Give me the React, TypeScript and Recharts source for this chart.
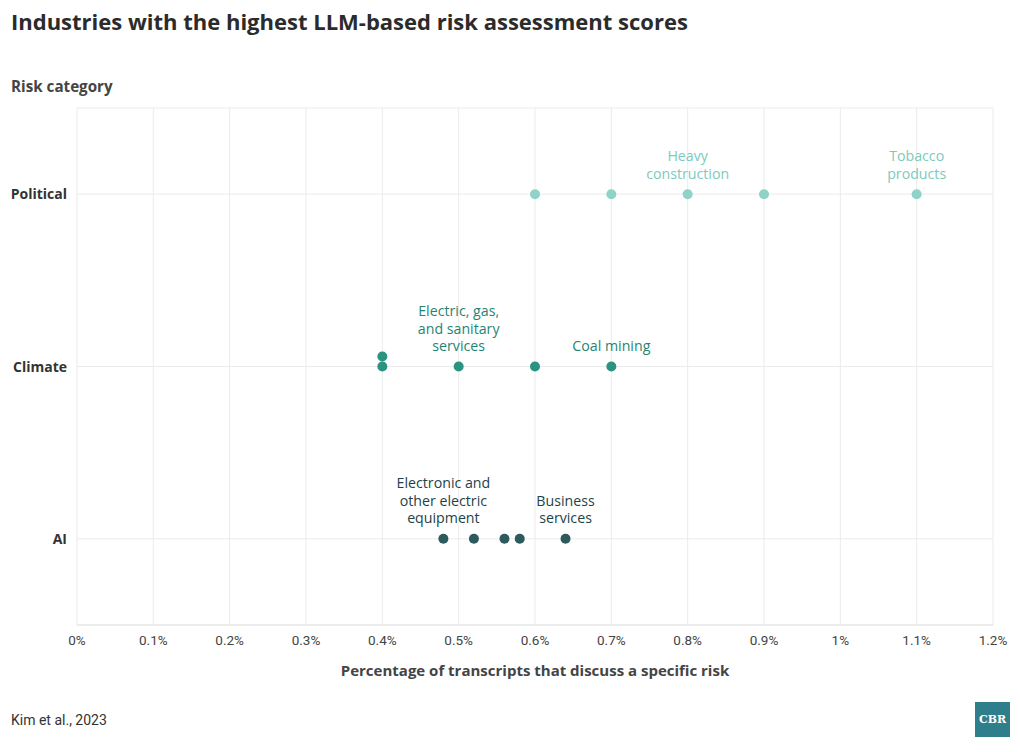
import { ScatterChart, Scatter, XAxis, YAxis, CartesianGrid } from "recharts";

// y positions: 1 = AI, 2 = Climate, 3 = Political
const categories = ["", "AI", "Climate", "Political"];

const politicalValues = [0.6, 0.7, 0.8, 0.9, 1.1];
const politicalLabels = ["", "", "Heavy\nconstruction", "", "Tobacco\nproducts"];

const climateValues = [0.4, 0.4, 0.5, 0.6, 0.7];
const climateLabels = ["", "", "Electric, gas,\nand sanitary\nservices", "", "Coal mining"];

const aiValues = [0.48, 0.52, 0.56, 0.58, 0.64];
const aiLabels = ["Electronic and\nother electric\nequipment", "", "", "", "Business\nservices"];

const xTicks = [0, 0.1, 0.2, 0.3, 0.4, 0.5, 0.6, 0.7, 0.8, 0.9, 1, 1.1, 1.2];

const COLORS = {
  political: { dot: "#8fd2c7", text: "#7ccabd" },
  climate: { dot: "#2b9382", text: "#1f8473" },
  ai: { dot: "#2c5a5e", text: "#1d4348" },
};

const FONT = "'Open Sans', Roboto, sans-serif";
const TICK_FONT = "Roboto, sans-serif";

function buildRows(values: number[], labels: string[], y: number) {
  return values.map((v, i) => ({
    x: v,
    y,
    label: labels[i],
    // how many earlier points share this value (drawn stacked)
    stack: values.slice(0, i).filter((p) => p === v).length,
  }));
}

const politicalData = buildRows(politicalValues, politicalLabels, 3);
const climateData = buildRows(climateValues, climateLabels, 2);
const aiData = buildRows(aiValues, aiLabels, 1);

const makeDot = (fill: string, textFill: string) => (props: any) => {
  const { cx, cy, payload } = props;
  const y = cy - payload.stack * 10;
  const lines: string[] = payload.label ? payload.label.split("\n") : [];
  return (
    <g>
      <circle cx={cx} cy={y} r={5} fill={fill} />
      {lines.map((ln, i) => (
        <text
          key={i}
          x={cx}
          y={cy - 15.5 - (lines.length - 1 - i) * 17.5}
          textAnchor="middle"
          fontSize={14.2}
          fontFamily={FONT}
          fill={textFill}
        >
          {ln}
        </text>
      ))}
    </g>
  );
};

const YTick = (props: any) => {
  const { y, payload } = props;
  return (
    <text x={67} y={y + 5} textAnchor="end" fontSize={14} fontWeight={700} fontFamily={FONT} fill="#333">
      {categories[payload.value]}
    </text>
  );
};

export default function App() {
  return (
    <div style={{ position: "absolute", left: 0, top: 0, width: 1020, height: 752, background: "#fff", fontFamily: FONT }}>
      <div style={{ position: "absolute", left: 11, top: 6, fontSize: 22, fontWeight: 700, color: "#2b2b2b" }}>
        Industries with the highest LLM-based risk assessment scores
      </div>
      <div style={{ position: "absolute", left: 11, top: 76, fontSize: 15.2, fontWeight: 700, color: "#444" }}>
        Risk category
      </div>
      <ScatterChart width={1020} height={752} margin={{ top: 108, right: 27, bottom: 67, left: 0 }}>
        <CartesianGrid stroke="#ebebeb" />
        <XAxis
          type="number"
          dataKey="x"
          domain={[0, 1.2]}
          ticks={xTicks}
          interval={0}
          height={60}
          tickLine={false}
          axisLine={{ stroke: "#e3e3e3" }}
          tick={{ fontSize: 13.5, fill: "#444", fontFamily: TICK_FONT }}
          tickMargin={4}
          tickFormatter={(v: number) => `${+v.toFixed(1)}%`}
          label={{
            value: "Percentage of transcripts that discuss a specific risk",
            position: "insideBottom",
            offset: 9,
            fontSize: 15,
            fontWeight: 700,
            fill: "#444",
            fontFamily: FONT,
          }}
        />
        <YAxis
          type="number"
          dataKey="y"
          domain={[0.5, 3.5]}
          ticks={[1, 2, 3]}
          width={77}
          tickLine={false}
          axisLine={false}
          tick={<YTick />}
        />
        <Scatter data={politicalData} isAnimationActive={false} shape={makeDot(COLORS.political.dot, COLORS.political.text)} />
        <Scatter data={climateData} isAnimationActive={false} shape={makeDot(COLORS.climate.dot, COLORS.climate.text)} />
        <Scatter data={aiData} isAnimationActive={false} shape={makeDot(COLORS.ai.dot, COLORS.ai.text)} />
      </ScatterChart>
      <div style={{ position: "absolute", left: 11, top: 712, fontSize: 14, color: "#333", fontFamily: TICK_FONT }}>
        Kim et al., 2023
      </div>
      <div
        style={{
          position: "absolute",
          left: 975,
          top: 702,
          width: 35,
          height: 35,
          background: "#2e7f8b",
          color: "#fff",
          fontFamily: "'DejaVu Serif', serif",
          fontWeight: 700,
          fontSize: 11,
          display: "flex",
          alignItems: "center",
          justifyContent: "center",
        }}
      >
        CBR
      </div>
    </div>
  );
}
